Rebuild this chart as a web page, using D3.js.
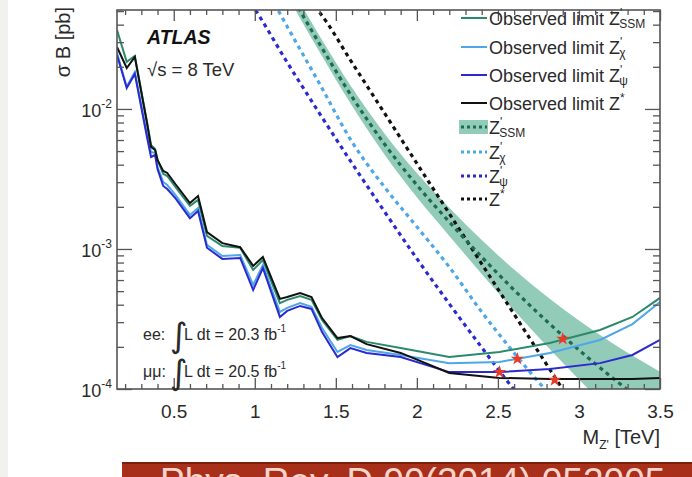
<!DOCTYPE html>
<html lang="en">
<head>
<meta charset="UTF-8">
<title>ATLAS dilepton Z' limits, 8 TeV</title>
<script src="https://cdn.jsdelivr.net/npm/d3@7"></script>
<style>
  body { margin: 0; background: #fff; }
  svg { display: block; font-family: "Liberation Sans", Arial, sans-serif; }
</style>
</head>
<body>
<div id="chart"></div>
<script>
// observed limits, mass in TeV, sigma*B in pb
const massObs = [0.15, 0.21, 0.26, 0.335, 0.36, 0.385, 0.40, 0.435, 0.46, 0.51, 0.60, 0.65, 0.705, 0.80, 0.91, 0.99,
  1.05, 1.155, 1.20, 1.28, 1.35, 1.415, 1.51, 1.59, 1.69, 1.90, 2.20, 2.51, 2.82, 3.13, 3.33, 3.50];
const obsSSM = [0.0366, 0.0217, 0.0239, 0.00807, 0.00553, 0.00518, 0.00432, 0.00344, 0.00332, 0.00277, 0.00203, 0.00224,
  0.00124, 0.00105, 0.00102, 0.000708, 0.000834, 0.000411, 0.000433, 0.000461, 0.000433, 0.000311, 0.000224, 0.000239,
  0.000217, 0.000196, 0.000169, 0.000184, 0.000213, 0.000264, 0.000327, 0.000447];
const obsChi = [0.0251, 0.0144, 0.0184, 0.00652, 0.00493, 0.00485, 0.00385, 0.00301, 0.00286, 0.00243, 0.00175, 0.00196,
  0.00107, 0.000891, 0.000906, 0.000553, 0.000769, 0.000355, 0.000380, 0.000411, 0.000386, 0.000273, 0.000184, 0.000206,
  0.000190, 0.000175, 0.000153, 0.000156, 0.000181, 0.000224, 0.000291, 0.000418];
const obsPsi = [0.0243, 0.0141, 0.0178, 0.00631, 0.00454, 0.00469, 0.00372, 0.00282, 0.00268, 0.00231, 0.00166, 0.00187,
  0.00102, 0.000849, 0.000863, 0.000509, 0.000731, 0.000327, 0.000361, 0.000392, 0.000373, 0.000255, 0.000169, 0.000196,
  0.000181, 0.000169, 0.000132, 0.000132, 0.000139, 0.000153, 0.000175, 0.000224];
const obsZstar = [0.0277, 0.0196, 0.0235, 0.00794, 0.00536, 0.00509, 0.00432, 0.00361, 0.00349, 0.00291, 0.00213, 0.00239,
  0.00132, 0.00110, 0.00103, 0.000757, 0.000877, 0.000440, 0.000454, 0.000485, 0.000454, 0.000321, 0.000231, 0.000239,
  0.000209, 0.000181, 0.000130, 0.000120, 0.000118, 0.000118, 0.000118, 0.000120];

// theory predictions
const massSSM = [1.1, 1.2, 1.4, 1.6, 1.8, 2.0, 2.2, 2.4, 2.6, 2.8, 3.0, 3.2, 3.4, 3.5];
const thSSM = [0.118, 0.0731, 0.0291, 0.0122, 0.00562, 0.00286, 0.00156, 0.000877, 0.000509, 0.000306, 0.000190,
  0.000122, 0.0000807, 0.0000663];
const thSSMlo = [0.1054, 0.0647, 0.0255, 0.01052, 0.00472, 0.00234, 0.00124, 0.000664, 0.000364, 0.000204, 0.000117,
  0.0000693, 0.000042, 0.0000332];
const thSSMhi = [0.132, 0.0826, 0.0332, 0.01415, 0.00669, 0.00349, 0.00197, 0.001158, 0.000713, 0.000459, 0.000308,
  0.000215, 0.000155, 0.000133];
const massChi = [1.05, 1.1, 1.2, 1.4, 1.6, 1.8, 2.0, 2.2, 2.4, 2.6, 2.8, 2.9];
const thChi = [0.0794, 0.0627, 0.0388, 0.0151, 0.00581, 0.00277, 0.00144, 0.000743, 0.000355, 0.000181, 0.0000968, 0.0000731];
const massPsi = [0.95, 1.0, 1.2, 1.4, 1.6, 1.8, 2.0, 2.2, 2.4, 2.6, 2.7];
const thPsi = [0.0632, 0.0518, 0.0215, 0.00927, 0.00409, 0.00185, 0.000853, 0.000406, 0.000198, 0.0000986, 0.0000709];
const massZstar = [1.3, 1.4, 1.6, 1.8, 2.0, 2.2, 2.4, 2.6, 2.8, 3.0];
const thZstar = [0.0655, 0.0489, 0.0214, 0.00935, 0.00408, 0.00179, 0.000783, 0.000342, 0.000150, 0.0000656];

// mass limits (stars): psi, chi, Z*, SSM
const limitMass = [2.51, 2.62, 2.85, 2.90];
const limitSigma = [0.000132, 0.000164, 0.000116, 0.000228];

const xTicks = [0.5, 1, 1.5, 2, 2.5, 3, 3.5];
const yTicks = [1e-4, 1e-3, 1e-2];

const width = 692, height = 477;
const mLeft = 117, mRight = 660, mTop = 10, mBottom = 389;

const cGreen = "#2b8a6c", cLight = "#4ea7e6", cDark = "#2a2ad0", cBlack = "#111";
const textCol = "#2a2a2a";

const svg = d3.select("#chart").append("svg").attr("width", width).attr("height", height);

svg.append("rect").attr("width", width).attr("height", height).attr("fill", "#fff");
svg.append("rect").attr("width", 8).attr("height", height).attr("fill", "#f1f1ed");

const x = d3.scaleLinear().domain([0.15, 3.5]).range([mLeft, mRight]);
const y = d3.scaleLog().domain([1e-4, 0.0509]).range([mBottom, mTop]);

svg.append("clipPath").attr("id", "plot")
  .append("rect").attr("x", mLeft).attr("y", mTop).attr("width", mRight - mLeft).attr("height", mBottom - mTop);

const plot = svg.append("g").attr("clip-path", "url(#plot)");

// SSM theory band
const band = d3.area().x((d, i) => x(massSSM[i])).y0((d, i) => y(thSSMlo[i])).y1((d, i) => y(thSSMhi[i]))
  .curve(d3.curveMonotoneX);
plot.append("path").datum(thSSM).attr("d", band).attr("fill", "#93cbb9");

const line = (ms) => d3.line().x((d, i) => x(ms[i])).y(d => y(d));

const theory = [
  [massPsi, thPsi, cDark],
  [massChi, thChi, cLight],
  [massZstar, thZstar, cBlack],
  [massSSM, thSSM, "#1d6a55"]
];
theory.forEach(([ms, vals, col]) => {
  plot.append("path").datum(vals).attr("d", line(ms).curve(d3.curveMonotoneX)(vals))
    .attr("fill", "none").attr("stroke", col).attr("stroke-width", 3.2).attr("stroke-dasharray", "4,4");
});

const observed = [[obsSSM, cGreen], [obsChi, cLight], [obsPsi, cDark], [obsZstar, cBlack]];
observed.forEach(([vals, col]) => {
  plot.append("path").datum(vals).attr("d", line(massObs)(vals))
    .attr("fill", "none").attr("stroke", col).attr("stroke-width", 2);
});

plot.selectAll(".star").data(limitMass).join("path")
  .attr("transform", (d, i) => `translate(${x(d)},${y(limitSigma[i])})`)
  .attr("d", d3.symbol(d3.symbolStar).size(55))
  .attr("fill", "#e83a2a");

// axes (ROOT style, ticks inward on all four sides)
const xMinor = d3.range(2, 35).filter(i => i % 5 !== 0).map(i => i / 10);
const yMinor = [];
[-4, -3, -2].forEach(e => { for (let k = 2; k <= 9; k++) { const v = k * Math.pow(10, e); if (v < 0.0509) yMinor.push(v); } });

const axisColor = "#555";
function styleAxis(g) { g.select(".domain").remove(); g.selectAll("line").attr("stroke", axisColor).attr("stroke-width", 1.3); }

svg.append("g").attr("transform", `translate(0,${mBottom})`)
  .call(d3.axisBottom(x).tickValues(xTicks).tickSize(-11).tickPadding(16).tickFormat(d3.format("")))
  .call(styleAxis)
  .call(g => g.selectAll("text").attr("font-size", 19).attr("fill", textCol).attr("font-family", "Liberation Sans, Arial, sans-serif"));
svg.append("g").attr("transform", `translate(0,${mBottom})`)
  .call(d3.axisBottom(x).tickValues(xMinor).tickSize(-5).tickFormat("")).call(styleAxis);
svg.append("g").attr("transform", `translate(0,${mTop})`)
  .call(d3.axisTop(x).tickValues(xTicks).tickSize(-11).tickFormat("")).call(styleAxis);
svg.append("g").attr("transform", `translate(0,${mTop})`)
  .call(d3.axisTop(x).tickValues(xMinor).tickSize(-5).tickFormat("")).call(styleAxis);

svg.append("g").attr("transform", `translate(${mLeft},0)`)
  .call(d3.axisLeft(y).tickValues(yTicks).tickSize(-15).tickFormat("")).call(styleAxis);
svg.append("g").attr("transform", `translate(${mLeft},0)`)
  .call(d3.axisLeft(y).tickValues(yMinor).tickSize(-7).tickFormat("")).call(styleAxis);
svg.append("g").attr("transform", `translate(${mRight},0)`)
  .call(d3.axisRight(y).tickValues(yTicks).tickSize(-15).tickFormat("")).call(styleAxis);
svg.append("g").attr("transform", `translate(${mRight},0)`)
  .call(d3.axisRight(y).tickValues(yMinor).tickSize(-7).tickFormat("")).call(styleAxis);

// y tick labels 10^n
yTicks.forEach(v => {
  const t = svg.append("text").attr("x", 112).attr("y", y(v) + 8).attr("text-anchor", "end")
    .attr("font-size", 18).attr("fill", textCol);
  t.append("tspan").text("10");
  t.append("tspan").text(Math.round(Math.log10(v))).attr("font-size", 12).attr("dy", -9);
});

svg.append("rect").attr("x", mLeft).attr("y", mTop).attr("width", mRight - mLeft).attr("height", mBottom - mTop)
  .attr("fill", "none").attr("stroke", axisColor).attr("stroke-width", 1.6);

// axis titles
svg.append("text").attr("transform", `translate(70,7) rotate(-90)`).attr("text-anchor", "end")
  .attr("font-size", 20).attr("fill", textCol).text("σ B [pb]");
const xt = svg.append("text").attr("x", mRight).attr("y", 444).attr("text-anchor", "end").attr("font-size", 20).attr("fill", textCol);
xt.append("tspan").text("M");
xt.append("tspan").text("Z'").attr("font-size", 12).attr("dy", 5);
xt.append("tspan").text(" [TeV]").attr("dy", -5);

// labels
svg.append("text").attr("x", 147).attr("y", 44).attr("font-size", 19.5).attr("font-weight", "bold")
  .attr("font-style", "italic").attr("fill", "#111").text("ATLAS");
svg.append("text").attr("x", 147).attr("y", 76).attr("font-size", 18.5).attr("fill", textCol).text("√s = 8 TeV");

const lumis = [["ee:", "20.3", 340], ["μμ:", "20.5", 377]];
lumis.forEach(([ch, val, yy]) => {
  svg.append("text").attr("x", 143).attr("y", yy).attr("font-size", 16).attr("fill", textCol).text(ch);
  svg.append("text").attr("x", 170).attr("y", yy + 7).attr("font-size", 34).attr("fill", textCol)
    .attr("font-family", "DejaVu Sans, sans-serif").text("∫");
  const t = svg.append("text").attr("x", 184).attr("y", yy).attr("font-size", 16).attr("fill", textCol);
  t.append("tspan").text(`L dt = ${val} fb`);
  t.append("tspan").text("-1").attr("font-size", 10).attr("dy", -8);
});

// legend
const legendNames = [
  ["Observed limit Z", "'", "SSM", cGreen, "obs"],
  ["Observed limit Z", "'", "χ", cLight, "obs"],
  ["Observed limit Z", "'", "ψ", cDark, "obs"],
  ["Observed limit Z", "*", "", cBlack, "obs"],
  ["Z", "'", "SSM", "#1d6a55", "band"],
  ["Z", "'", "χ", cLight, "th"],
  ["Z", "'", "ψ", cDark, "th"],
  ["Z", "*", "", cBlack, "th"]
];
const legendY = [18, 47, 75, 103, 127, 152, 176, 199];
const lg = svg.append("g");
legendNames.forEach(([txt, sup, sub, col, kind], i) => {
  const yy = legendY[i];
  if (kind === "band") {
    lg.append("rect").attr("x", 459).attr("y", yy - 7).attr("width", 29).attr("height", 14).attr("fill", "#93cbb9");
  }
  if (kind === "obs") {
    lg.append("line").attr("x1", 461).attr("x2", 487).attr("y1", yy).attr("y2", yy).attr("stroke", col).attr("stroke-width", 2);
  } else {
    lg.append("line").attr("x1", 461).attr("x2", 487).attr("y1", yy).attr("y2", yy).attr("stroke", col)
      .attr("stroke-width", 3).attr("stroke-dasharray", "3,3");
  }
  const t = lg.append("text").attr("x", 489).attr("y", yy + 7).attr("font-size", 18).attr("fill", textCol);
  t.append("tspan").text(txt);
  t.append("tspan").text(sup).attr("font-size", 12).attr("dy", -8);
  if (sub) t.append("tspan").text(sub).attr("font-size", 12).attr("dx", -3).attr("dy", 11);
});

// journal reference banner
svg.append("rect").attr("x", 122).attr("y", 462).attr("width", width - 122).attr("height", 20).attr("fill", "#a8301a");
svg.append("rect").attr("x", 122).attr("y", 462).attr("width", width - 122).attr("height", 2).attr("fill", "#7a200f");
svg.append("text").attr("x", 160).attr("y", 494).attr("font-size", 37).attr("fill", "#f4d6cc")
  .text("Phys. Rev. D 90(2014) 052005");
</script>
</body>
</html>
